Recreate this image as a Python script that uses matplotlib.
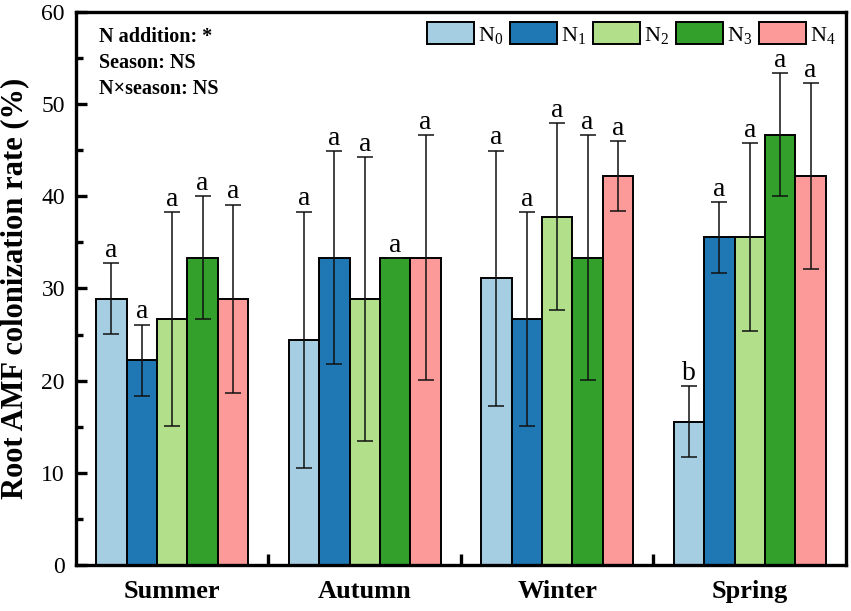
import numpy as np
import matplotlib
matplotlib.use('Agg')
import matplotlib.pyplot as plt
from matplotlib.ticker import MultipleLocator, FixedLocator

plt.rcParams['font.family'] = ['Liberation Serif', 'DejaVu Serif']
plt.rcParams['mathtext.fontset'] = 'custom'
plt.rcParams['mathtext.rm'] = 'Liberation Serif'

# data
seasons = ['Summer', 'Autumn', 'Winter', 'Spring']
treatments = ['$\\mathregular{N_0}$', '$\\mathregular{N_1}$', '$\\mathregular{N_2}$',
              '$\\mathregular{N_3}$', '$\\mathregular{N_4}$']
colors = ['#a6cee3', '#1f78b4', '#b2df8a', '#33a02c', '#fb9a99']

n0 = [28.89, 24.44, 31.11, 15.56]
n1 = [22.22, 33.33, 26.67, 35.56]
n2 = [26.67, 28.89, 37.78, 35.56]
n3 = [33.33, 33.33, 33.33, 46.67]
n4 = [28.89, 33.33, 42.22, 42.22]

n0_err = [3.85, 13.9, 13.85, 3.85]
n1_err = [3.85, 11.55, 11.6, 3.85]
n2_err = [11.6, 15.4, 10.15, 10.2]
n3_err = [6.65, 0.0, 13.3, 6.67]
n4_err = [10.2, 13.3, 3.8, 10.1]

letters = [['a', 'a', 'a', 'b'],
           ['a', 'a', 'a', 'a'],
           ['a', 'a', 'a', 'a'],
           ['a', 'a', 'a', 'a'],
           ['a', 'a', 'a', 'a']]

means = [n0, n1, n2, n3, n4]
errs = [n0_err, n1_err, n2_err, n3_err, n4_err]

fig = plt.figure(figsize=(8.51, 6.11), dpi=100)
ax = fig.add_axes([0.0893, 0.0753, 0.9048, 0.9051])

x = np.arange(len(seasons))
w = 0.158
for i in range(5):
    pos = x + (i - 2) * w
    ax.bar(pos, means[i], w, color=colors[i], edgecolor='black', linewidth=1.4,
           label=treatments[i], zorder=2)
    ax.errorbar(pos, means[i], yerr=errs[i], fmt='none', ecolor='#111111',
                elinewidth=1.1, capsize=6, capthick=1.1, zorder=3)
    for j in range(len(seasons)):
        top = means[i][j] + errs[i][j]
        ax.annotate(letters[i][j], (pos[j], top), xytext=(0, 4.5),
                    textcoords='offset points', ha='center', va='baseline',
                    fontsize=20)

ax.set_xlim(-0.5, 3.5)
ax.set_ylim(0, 60)
ax.set_xticks(x)
ax.set_xticklabels(seasons, fontsize=19, fontweight='bold')
ax.xaxis.set_minor_locator(FixedLocator([0.5, 1.5, 2.5]))
ax.yaxis.set_major_locator(MultipleLocator(10))
ax.yaxis.set_minor_locator(MultipleLocator(5))
ax.tick_params(axis='both', which='major', direction='in', length=8, width=2.4)
ax.tick_params(axis='x', which='major', length=8, pad=11)
ax.tick_params(axis='x', which='minor', direction='in', length=8, width=2.4)
ax.tick_params(axis='y', which='minor', direction='in', length=5, width=2.4)
ax.tick_params(axis='y', which='major', labelsize=17, pad=8)
for s in ax.spines.values():
    s.set_linewidth(2.4)

ax.set_ylabel('Root AMF colonization rate (%)', fontsize=22, fontweight='bold', labelpad=9)

ax.text(0.03, 0.972, 'N addition: *\nSeason: NS\nN×season: NS', transform=ax.transAxes,
        ha='left', va='top', fontsize=14.5, fontweight='bold', linespacing=1.38)

leg = ax.legend(loc='upper right', ncol=5, frameon=False, fontsize=16,
                handlelength=2.1, handleheight=1.15, handletextpad=0.2,
                columnspacing=0.3, borderaxespad=0.2, borderpad=0.25)
for h in leg.legend_handles:
    h.set_edgecolor('black')
    h.set_linewidth(1.4)

fig.savefig('out.png', dpi=100)
